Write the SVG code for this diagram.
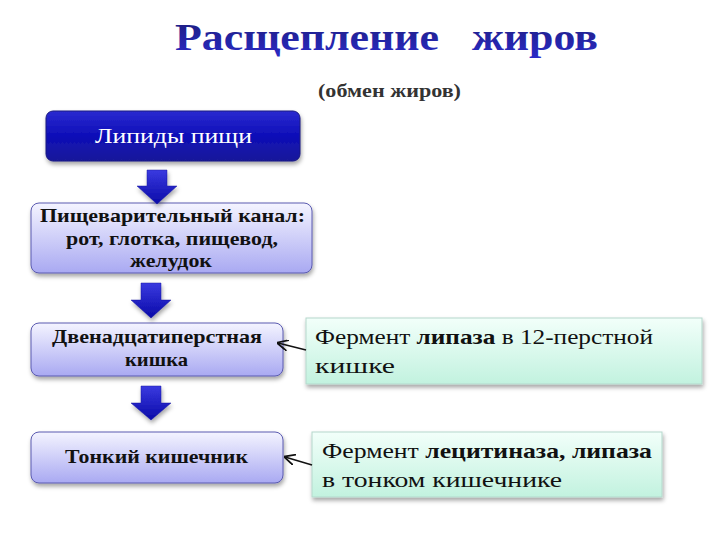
<svg xmlns="http://www.w3.org/2000/svg" width="720" height="540" viewBox="0 0 720 540">
<defs>
<linearGradient id="gDark" x1="0" y1="0" x2="0" y2="1"><stop offset="0" stop-color="#2a2ad0"/><stop offset="0.5" stop-color="#0e0eb8"/><stop offset="1" stop-color="#1a1a9a"/></linearGradient>
<linearGradient id="gLight" x1="0" y1="0" x2="0" y2="1"><stop offset="0" stop-color="#f4f4ff"/><stop offset="1" stop-color="#a9a9f2"/></linearGradient>
<linearGradient id="gGreen" x1="0" y1="0" x2="0" y2="1"><stop offset="0" stop-color="#f2fffa"/><stop offset="1" stop-color="#c2f2df"/></linearGradient>
<linearGradient id="gArrow" x1="0" y1="0" x2="0" y2="1"><stop offset="0" stop-color="#3a3ae0"/><stop offset="1" stop-color="#0a0aa8"/></linearGradient>
<linearGradient id="gTitle" x1="0" y1="0" x2="0" y2="1"><stop offset="0" stop-color="#1d1d7a"/><stop offset="1" stop-color="#2a2ac8"/></linearGradient>
<filter id="sh" x="-10%" y="-10%" width="130%" height="140%"><feDropShadow dx="1" dy="3" stdDeviation="2" flood-color="#000" flood-opacity="0.35"/></filter>
<marker id="ah" viewBox="0 0 10 10" refX="9" refY="5" markerWidth="7" markerHeight="7" orient="auto"><path d="M0,0 L10,5 L0,10" fill="none" stroke="#111" stroke-width="1.6"/></marker>
</defs>
<style>
.dark{fill:url(#gDark);stroke:#1a1a80;stroke-width:1;filter:url(#sh)}
.light{fill:url(#gLight);stroke:#5a5ab0;stroke-width:1;filter:url(#sh)}
.green{fill:url(#gGreen);stroke:#b5d8cc;stroke-width:1;filter:url(#sh)}
.arr{fill:url(#gArrow);stroke:#1818a0;stroke-width:0.5;filter:url(#sh)}
.bt{font-weight:bold;font-size:19px;fill:#111}
.gt{font-size:21px;fill:#111}
.conn{stroke:#111;stroke-width:1.6;fill:none;marker-end:url(#ah)}
</style>
<rect width="720" height="540" fill="#fff"/>
<g font-family="'Liberation Serif', 'DejaVu Serif', serif" lengthAdjust="spacingAndGlyphs">
<g id="title">
<text x="175" y="50" font-size="37" font-weight="bold" fill="url(#gTitle)" xml:space="preserve" textLength="423" lengthAdjust="spacingAndGlyphs">Расщепление   жиров</text>
<text x="318" y="97" font-size="18" font-weight="bold" fill="#333" textLength="143" lengthAdjust="spacingAndGlyphs">(обмен жиров)</text>
</g>
<g id="n1"><rect class="dark" x="46" y="111" width="254" height="50" rx="7"/><text x="95" y="143" font-size="22" fill="#fff" textLength="157" lengthAdjust="spacingAndGlyphs">Липиды пищи</text></g>
<g id="n2"><rect class="light" x="31" y="203" width="281" height="70" rx="8"/><text class="bt" x="40" y="222" textLength="265" lengthAdjust="spacingAndGlyphs">Пищеварительный канал:</text><text class="bt" x="66" y="245" textLength="212" lengthAdjust="spacingAndGlyphs">рот, глотка, пищевод,</text><text class="bt" x="130" y="267" textLength="82" lengthAdjust="spacingAndGlyphs">желудок</text></g>
<g id="n3"><rect class="light" x="31" y="323" width="252" height="53" rx="8"/><text class="bt" x="52" y="343" textLength="210" lengthAdjust="spacingAndGlyphs">Двенадцатиперстная</text><text class="bt" x="125" y="366" textLength="63" lengthAdjust="spacingAndGlyphs">кишка</text></g>
<g id="n4"><rect class="light" x="31" y="432" width="252" height="51" rx="8"/><text class="bt" x="65" y="463" textLength="183" lengthAdjust="spacingAndGlyphs">Тонкий кишечник</text></g>
<g id="n5"><rect class="green" x="306" y="318" width="396" height="66"/><text class="gt" x="315" y="344" textLength="338" lengthAdjust="spacingAndGlyphs">Фермент <tspan font-weight="bold">липаза</tspan> в 12-перстной</text><text class="gt" x="315" y="373" textLength="80" lengthAdjust="spacingAndGlyphs">кишке</text></g>
<g id="n6"><rect class="green" x="312" y="432" width="350" height="65"/><text class="gt" x="322" y="458" textLength="330" lengthAdjust="spacingAndGlyphs">Фермент <tspan font-weight="bold">лецитиназа, липаза</tspan></text><text class="gt" x="322" y="487" textLength="240" lengthAdjust="spacingAndGlyphs">в тонком кишечнике</text></g>
</g>
<g id="connectors">
<path class="arr" d="M147,170 H167 V186 H177 L157,204 L137,186 H147 Z"/>
<path class="arr" d="M141,283 H161 V300 H171 L151,318 L131,300 H141 Z"/>
<path class="arr" d="M141,386 H161 V403 H171 L151,420 L131,403 H141 Z"/>
<line class="conn" x1="306" y1="350" x2="278" y2="343"/>
<line class="conn" x1="312" y1="465" x2="285" y2="457"/>
</g>
</svg>
